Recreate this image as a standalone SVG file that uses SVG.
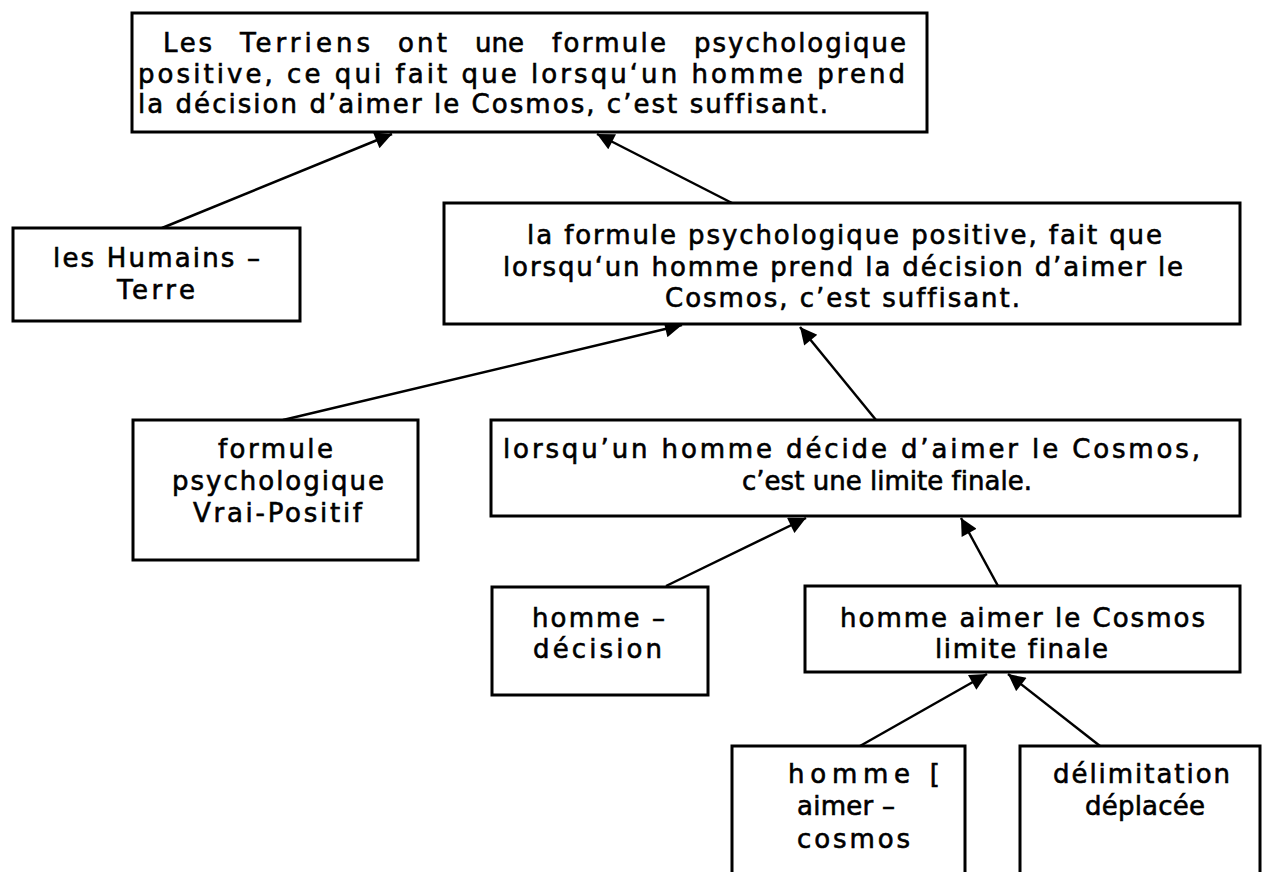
<svg xmlns="http://www.w3.org/2000/svg" width="1264" height="872" viewBox="0 0 1264 872">
<style>
.box{fill:#fff;stroke:#000;stroke-width:3}
.t{font-family:"DejaVu Sans","Liberation Sans",sans-serif;font-size:26px;fill:#000;stroke:#000;stroke-width:0.6;font-variant-ligatures:none}
.c{stroke:#000;stroke-width:2.5;fill:none;marker-end:url(#ah)}
</style>
<defs>
<marker id="ah" viewBox="0 0 10 10" refX="10" refY="5" markerWidth="19" markerHeight="17" markerUnits="userSpaceOnUse" orient="auto">
<path d="M0,0 L10,5 L0,10 z" fill="#000"/>
</marker>
</defs>
<rect width="1264" height="872" fill="#fff"/>
<g id="connectors">
<line class="c" x1="162" y1="228" x2="392" y2="134"/>
<line class="c" x1="732" y1="203" x2="597" y2="134"/>
<line class="c" x1="283" y1="420" x2="682" y2="325"/>
<line class="c" x1="876" y1="420" x2="800" y2="327"/>
<line class="c" x1="666" y1="586" x2="806" y2="518"/>
<line class="c" x1="998" y1="586" x2="961" y2="518"/>
<line class="c" x1="860" y1="746" x2="987" y2="674"/>
<line class="c" x1="1100" y1="746" x2="1008" y2="674"/>
</g>
<g id="n1">
<rect class="box" x="132" y="13" width="795" height="119"/>
<text class="t" x="163" y="52" textLength="49" lengthAdjust="spacing">Les</text>
<text class="t" x="240" y="52" textLength="130" lengthAdjust="spacing">Terriens</text>
<text class="t" x="398" y="52" textLength="49" lengthAdjust="spacing">ont</text>
<text class="t" x="475" y="52" textLength="49" lengthAdjust="spacing">une</text>
<text class="t" x="552" y="52" textLength="114" lengthAdjust="spacing">formule</text>
<text class="t" x="694" y="52" textLength="212" lengthAdjust="spacing">psychologique</text>
<text class="t" x="138" y="83" textLength="767" lengthAdjust="spacing">positive, ce qui fait que lorsqu‘un homme prend</text>
<text class="t" x="138" y="113" textLength="690" lengthAdjust="spacing">la décision d’aimer le Cosmos, c’est suffisant.</text>
</g>
<g id="n2">
<rect class="box" x="13" y="228" width="287" height="93"/>
<text class="t" x="53" y="267" textLength="207" lengthAdjust="spacing">les Humains –</text>
<text class="t" x="117" y="299" textLength="78" lengthAdjust="spacing">Terre</text>
</g>
<g id="n3">
<rect class="box" x="444" y="203" width="796" height="121"/>
<text class="t" x="527" y="244" textLength="635" lengthAdjust="spacing">la formule psychologique positive, fait que</text>
<text class="t" x="503" y="276" textLength="680" lengthAdjust="spacing">lorsqu‘un homme prend la décision d’aimer le</text>
<text class="t" x="665" y="307" textLength="355" lengthAdjust="spacing">Cosmos, c’est suffisant.</text>
</g>
<g id="n4">
<rect class="box" x="133" y="420" width="285" height="140"/>
<text class="t" x="218" y="458" textLength="115" lengthAdjust="spacing">formule</text>
<text class="t" x="172" y="490" textLength="212" lengthAdjust="spacing">psychologique</text>
<text class="t" x="193" y="522" textLength="169" lengthAdjust="spacing">Vrai-Positif</text>
</g>
<g id="n5">
<rect class="box" x="491" y="420" width="749" height="96"/>
<text class="t" x="503" y="458" textLength="697" lengthAdjust="spacing">lorsqu’un homme décide d’aimer le Cosmos,</text>
<text class="t" x="742" y="490" textLength="290" lengthAdjust="spacing">c’est une limite finale.</text>
</g>
<g id="n6">
<rect class="box" x="492" y="587" width="216" height="108"/>
<text class="t" x="532" y="627" textLength="133" lengthAdjust="spacing">homme –</text>
<text class="t" x="533" y="658" textLength="129" lengthAdjust="spacing">décision</text>
</g>
<g id="n7">
<rect class="box" x="805" y="586" width="435" height="86"/>
<text class="t" x="840" y="627" textLength="365" lengthAdjust="spacing">homme aimer le Cosmos</text>
<text class="t" x="935" y="658" textLength="173" lengthAdjust="spacing">limite finale</text>
</g>
<g id="n8">
<rect class="box" x="732" y="746" width="233" height="140"/>
<text class="t" x="788" y="783" textLength="152" lengthAdjust="spacing">homme [</text>
<text class="t" x="797" y="815" textLength="98" lengthAdjust="spacing">aimer –</text>
<text class="t" x="797" y="848" textLength="113" lengthAdjust="spacing">cosmos</text>
</g>
<g id="n9">
<rect class="box" x="1020" y="746" width="240" height="140"/>
<text class="t" x="1053" y="783" textLength="177" lengthAdjust="spacing">délimitation</text>
<text class="t" x="1085" y="815" textLength="120" lengthAdjust="spacing">déplacée</text>
</g>
</svg>
